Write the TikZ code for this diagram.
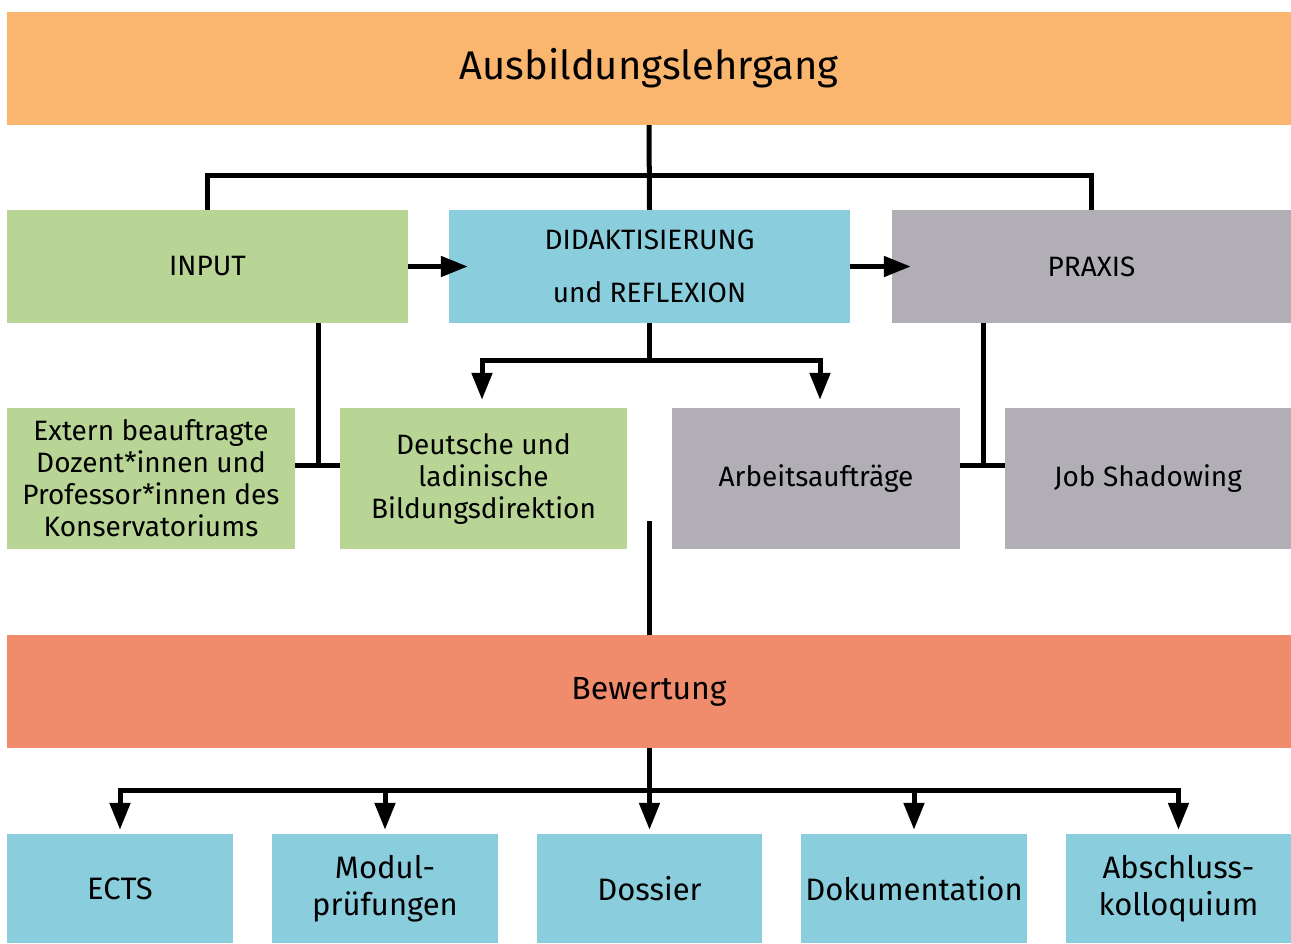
\documentclass[tikz,border=0pt]{standalone}
\usepackage{fontspec}
\setmainfont{Fira Sans}
\usetikzlibrary{arrows.meta}
\definecolor{kopf}{RGB}{250, 181, 110}
\definecolor{eingang}{RGB}{184, 213, 149}
\definecolor{didaktik}{RGB}{138, 206, 222}
\definecolor{praxisgrau}{RGB}{177, 175, 181}
\definecolor{bewertung}{RGB}{240, 139, 108}

\begin{document}
\begin{tikzpicture}[x=1pt, y=-1pt,
		box/.style={draw=none, inner sep=0pt, align=center, text=black},
		breit/.style={box, minimum width=1284pt, minimum height=113pt},
		mittel/.style={box, minimum width=401pt, minimum height=113pt, font=\fontsize{28}{32}\selectfont},
		klein/.style={box, minimum width=288pt, minimum height=141pt, font=\fontsize{28}{32}\selectfont},
		unten/.style={box, fill=didaktik, minimum width=226pt, minimum height=109pt, font=\fontsize{31}{37}\selectfont},
		linie/.style={line width=5pt},
		pfeil/.style={line width=5pt, -{Triangle[length=27pt, width=20pt]}}]
			\useasboundingbox (0, 0) rectangle (1291, 943);
			% obere Ebene
			\node[breit, fill=kopf, font=\fontsize{40}{44}\selectfont] (lehrgang) at (649, 68.5) {Ausbildungslehrgang};
			\node[mittel, fill=eingang] (input) at (207.5, 266.5) {INPUT};
			\node[mittel, fill=didaktik, font=\fontsize{28}{53}\selectfont] (didaktisierung) at (649.5, 266.5) {DIDAKTISIERUNG\\und REFLEXION};
			\node[mittel, fill=praxisgrau, minimum width=399pt] (praxis) at (1091.5, 266.5) {PRAXIS};
			% zweite Ebene
			\node[klein, fill=eingang] (extern) at (151, 478.5) {Extern beauftragte\\Dozent*innen und\\Professor*innen des\\Konservatoriums};
			\node[klein, fill=eingang, minimum width=287pt] (direktion) at (483.5, 478.5) {Deutsche und\\ladinische\\Bildungsdirektion};
			\node[klein, fill=praxisgrau] (auftraege) at (816, 478.5) {Arbeitsaufträge};
			\node[klein, fill=praxisgrau, minimum width=286pt] (shadowing) at (1148, 478.5) {Job Shadowing};
			% Bewertung
			\node[breit, fill=bewertung, font=\fontsize{32}{36}\selectfont] (bewertung) at (649, 691.5) {Bewertung};
			\node[unten] (ects) at (120, 888.5) {ECTS};
			\node[unten] (modul) at (385, 888.5) {Modul-\\prüfungen};
			\node[unten, minimum width=225pt] (dossier) at (649.5, 888.5) {Dossier};
			\node[unten] (doku) at (914, 888.5) {Dokumentation};
			\node[unten, minimum width=225pt] (abschluss) at (1178.5, 888.5) {Abschluss-\\kolloquium};

			\coordinate (verteiler) at (649, 175);
			\coordinate (gabel) at (649.5, 360);
			\coordinate (tinput) at (318, 465);
			\coordinate (tpraxis) at (983, 465);
			\coordinate (mitte) at (649, 521);
			\coordinate (verteilung) at (649, 790);

			\draw[linie] (lehrgang.south) -- (didaktisierung.north);
			\draw[linie] (input.north) |- (verteiler) -| (praxis.north);
			\draw[pfeil] (input.east) -- ([xshift=19pt]didaktisierung.west);
			\draw[pfeil] (didaktisierung.east) -- ([xshift=19pt]praxis.west);
			\draw[pfeil] (didaktisierung.south) -- (gabel) -| ([xshift=-1.5pt, yshift=8pt]direktion.north);
			\draw[pfeil] (didaktisierung.south) -- (gabel) -| ([xshift=4pt, yshift=8pt]auftraege.north);
			\draw[linie] (input.south -| tinput) -- (tinput);
			\draw[linie] (extern.east |- tinput) -- (direktion.west |- tinput);
			\draw[linie] (praxis.south -| tpraxis) -- (tpraxis);
			\draw[linie] (auftraege.east |- tpraxis) -- (shadowing.west |- tpraxis);
			\draw[linie] (mitte) -- (bewertung.north);
			\foreach \ziel in {ects, modul, dossier, doku, abschluss}
				\draw[pfeil] (bewertung.south) -- (verteilung) -| ([yshift=4pt]\ziel.north);
		\end{tikzpicture}
\end{document}
